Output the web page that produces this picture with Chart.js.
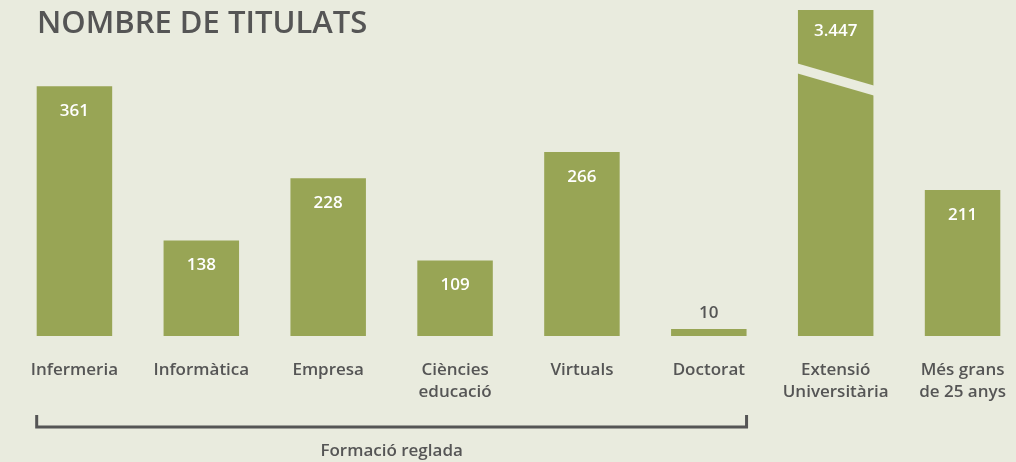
<!DOCTYPE html>
<html><head><meta charset="utf-8">
<script src="https://cdn.jsdelivr.net/npm/chart.js@4/dist/chart.umd.min.js"></script>
<style>
html,body{margin:0;padding:0;background:#E9EBDE;overflow:hidden;width:1016px;height:462px}
#wrap{position:absolute;left:0;top:0;width:1030px;height:462px}
</style></head><body>
<div id="wrap"><canvas id="c" width="1030" height="462"></canvas></div>
<script>
const categories = [["Infermeria"],["Informàtica"],["Empresa"],["Ciències","educació"],["Virtuals"],["Doctorat"],["Extensió","Universitària"],["Més grans","de 25 anys"]];
const values = [361,138,228,109,266,10,3447,211];
const valueLabels = ["361","138","228","109","266","10","3.447","211"];
const title = "NOMBRE DE TITULATS";
const groupLabel = "Formació reglada";
const groupFrom = 0, groupTo = 5;
const brokenIndex = 6;

const BG = "#E9EBDE", BAR = "#98A555", TXT = "#555555";
const FONT = "'Open Sans', sans-serif";

const overlay = {
  id: 'overlay',
  afterDatasetsDraw(chart) {
    const ctx = chart.ctx;
    const meta = chart.getDatasetMeta(0);
    const area = chart.chartArea;
    ctx.save();
    const b = meta.data[brokenIndex];
    const half = b.width / 2 + 2;
    ctx.fillStyle = BG;
    ctx.beginPath();
    ctx.moveTo(b.x - half, 63);
    ctx.lineTo(b.x + half, 86);
    ctx.lineTo(b.x + half, 96);
    ctx.lineTo(b.x - half, 73);
    ctx.closePath();
    ctx.fill();
    ctx.font = "600 17px " + FONT;
    ctx.textAlign = "center";
    ctx.textBaseline = "middle";
    meta.data.forEach((bar, i) => {
      const top = Math.max(bar.y, area.top);
      const h = bar.base - top;
      if (h < 40) {
        ctx.fillStyle = TXT;
        ctx.fillText(valueLabels[i], bar.x, top - 16);
      } else {
        ctx.fillStyle = "#ffffff";
        ctx.fillText(valueLabels[i], bar.x, top + (i === brokenIndex ? 21 : 25));
      }
    });
    ctx.fillStyle = TXT;
    ctx.textAlign = "left";
    ctx.textBaseline = "alphabetic";
    ctx.font = "600 31px " + FONT;
    ctx.fillText(title, 37, 33);
    const x0 = meta.data[groupFrom].x - meta.data[groupFrom].width / 2;
    const x1 = meta.data[groupTo].x + meta.data[groupTo].width / 2;
    ctx.strokeStyle = TXT;
    ctx.lineWidth = 3;
    ctx.beginPath();
    ctx.moveTo(x0, 415);
    ctx.lineTo(x0, 427);
    ctx.lineTo(x1, 427);
    ctx.lineTo(x1, 415);
    ctx.stroke();
    ctx.textAlign = "center";
    ctx.textBaseline = "middle";
    ctx.font = "600 17px " + FONT;
    ctx.fillText(groupLabel, (x0 + x1) / 2, 451);
    ctx.restore();
  }
};

new Chart(document.getElementById('c'), {
  type: 'bar',
  data: { labels: categories, datasets: [{ data: values, backgroundColor: BAR, borderWidth: 0,
    categoryPercentage: 1, barPercentage: 0.595 }] },
  options: {
    responsive: false, animation: false,
    layout: { padding: { left: 11, right: 4, top: 10, bottom: 0 } },
    plugins: { legend: { display: false }, tooltip: { enabled: false } },
    scales: {
      y: { display: false, min: 0, max: 471 },
      x: {
        grid: { display: false }, border: { display: false },
        ticks: { color: TXT, font: { family: FONT, size: 17, weight: '600', lineHeight: 1.3 }, padding: 15, maxRotation: 0, autoSkip: false },
        afterFit(axis) { axis.height = 126; }
      }
    }
  },
  plugins: [overlay]
});
</script>
</body></html>
